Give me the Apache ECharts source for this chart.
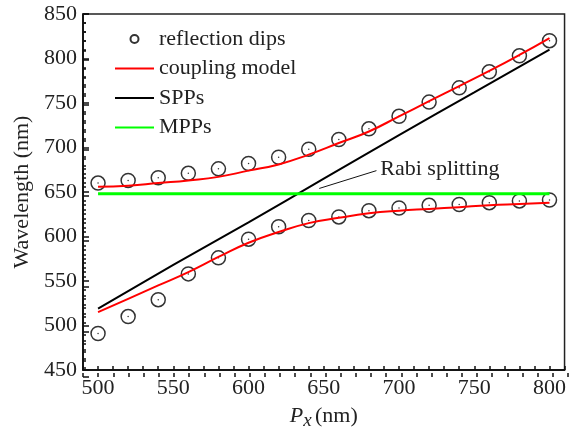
<!DOCTYPE html>
<html>
<head>
    <meta charset="utf-8"/>
    <title>Rabi splitting</title>
    <script type="text/javascript" src="https://cdn.jsdelivr.net/npm/echarts@6/dist/echarts.min.js"></script>
    <style>
        body { margin: 0; background: #fff; }
        #main { width: 569px; height: 435px; }
    </style>
</head>
<body>
<div id="main"></div>
<script type="text/javascript">
    // measured points (period Px, nm)
    var dipX = [500, 520, 540, 560, 580, 600, 620, 640, 660, 680, 700, 720, 740, 760, 780, 800];
    var dipsUpper = [660, 663, 666, 671, 676, 682, 689, 698, 709, 721, 735, 751, 767, 785, 803, 820];
    var dipsLower = [491, 510, 529, 558, 576, 597, 611, 618, 622, 629, 632, 635, 636, 638, 640, 641];

    // coupled oscillator fit, same x as dips
    var modelUpper = [656, 657, 660, 663, 667, 674, 681, 692, 705, 718, 735, 752, 769, 786, 804, 823];
    var modelLower = [515, 530, 545, 560, 577, 593, 605, 615, 621, 626, 629, 631, 633, 635, 636.5, 638];

    // uncoupled modes
    var sppX = [500, 550, 600, 650, 700, 750, 800];
    var sppY = [519, 568, 616, 665, 714, 762, 810];
    var mppX = [500, 800];
    var mppY = [648, 648];

    // annotation arrow: from -> to (data coords)
    var arrowFrom = [647, 654];
    var arrowTo = [685, 674];

    var xLabels = [500, 550, 600, 650, 700, 750, 800];

    var serif = '"Liberation Serif", "DejaVu Serif", serif';
    var noSymbol = { opacity: 0 };
    var gridBox = { left: 83, right: 1, top: 14, bottom: 58 };

    function pairs(xs, ys) {
        var res = [];
        for (var i = 0; i < xs.length; i++) res.push([xs[i], ys[i]]);
        return res;
    }

    var chart = echarts.init(document.getElementById('main'));
    var option = {
        animation: false,
        grid: [
            Object.assign({ show: true, borderColor: '#222', borderWidth: 1.5 }, gridBox),
            // second grid on the same box, only carries the tick marks
            Object.assign({ show: false }, gridBox)
        ],
        legend: {
            orient: 'vertical',
            left: 114,
            top: 28,
            padding: 0,
            itemWidth: 39,
            itemHeight: 8,
            itemGap: 7.5,
            textStyle: { fontFamily: serif, fontSize: 22, color: '#222', lineHeight: 21 },
            data: [
                { name: 'reflection dips' },
                { name: 'coupling model', itemStyle: noSymbol },
                { name: 'SPPs', itemStyle: noSymbol },
                { name: 'MPPs', itemStyle: noSymbol }
            ]
        },
        xAxis: [{
            type: 'value',
            gridIndex: 0,
            min: 490, max: 810, interval: 10,
            name: '{p|P}{x|x} {n|(nm)}',
            nameLocation: 'middle',
            nameGap: 33,
            nameTextStyle: {
                rich: {
                    p: { fontFamily: serif, fontSize: 22, fontStyle: 'italic', color: '#222' },
                    x: { fontFamily: serif, fontSize: 19, fontStyle: 'italic', color: '#222', padding: [8, 0, 0, 0] },
                    n: { fontFamily: serif, fontSize: 22, color: '#222' }
                }
            },
            axisLine: { show: true, lineStyle: { color: '#000', width: 1.5 } },
            axisTick: { show: true, inside: true, length: 4, lineStyle: { color: '#111', width: 1.5 } },
            axisLabel: { customValues: xLabels, margin: 7, fontFamily: serif, fontSize: 22, color: '#222' },
            splitLine: { show: false }
        }, {
            type: 'value',
            gridIndex: 1,
            min: 490, max: 810, interval: 10,
            z: 10,
            axisLine: { show: false },
            axisTick: { show: true, inside: true, length: 4, lineStyle: { color: '#111', width: 1.5 } },
            axisLabel: { show: false },
            splitLine: { show: false }
        }],
        yAxis: [{
            type: 'value',
            gridIndex: 0,
            min: 450, max: 850, interval: 50,
            name: 'Wavelength (nm)',
            nameLocation: 'middle',
            nameGap: 50,
            nameTextStyle: { fontFamily: serif, fontSize: 22, color: '#222' },
            axisLine: { show: true, lineStyle: { color: '#000', width: 1.5 } },
            axisTick: { show: true, inside: true, length: 6, lineStyle: { color: '#111', width: 1.5 } },
            minorTick: { show: true, splitNumber: 5, length: 3, lineStyle: { color: '#111', width: 1.5 } },
            axisLabel: { margin: 6, fontFamily: serif, fontSize: 22, color: '#222' },
            splitLine: { show: false }
        }, {
            type: 'value',
            gridIndex: 1,
            min: 450, max: 850, interval: 50,
            z: 10,
            axisLine: { show: false },
            axisTick: { show: true, inside: true, length: 6, lineStyle: { color: '#111', width: 1.5 } },
            minorTick: { show: true, splitNumber: 5, length: 3, lineStyle: { color: '#111', width: 1.5 } },
            axisLabel: { show: false },
            splitLine: { show: false }
        }],
        series: [
            {
                name: 'reflection dips', type: 'scatter',
                data: pairs(dipX, dipsUpper).concat(pairs(dipX, dipsLower)),
                symbol: 'circle', symbolSize: 14,
                itemStyle: { color: 'rgba(0,0,0,0)', borderColor: '#000', borderWidth: 1.5 }
            },
            {
                name: 'dot', type: 'scatter',
                data: pairs(dipX, dipsUpper).concat(pairs(dipX, dipsLower)),
                symbol: 'circle', symbolSize: 1.5,
                itemStyle: { color: '#000' }
            },
            {
                name: 'coupling model', type: 'line', smooth: true, symbol: 'none',
                data: pairs(dipX, modelUpper),
                lineStyle: { color: '#ff0000', width: 2 }, itemStyle: { color: '#ff0000' }
            },
            {
                name: 'coupling model', type: 'line', smooth: true, symbol: 'none',
                data: pairs(dipX, modelLower),
                lineStyle: { color: '#ff0000', width: 2 }, itemStyle: { color: '#ff0000' }
            },
            {
                name: 'SPPs', type: 'line', smooth: true, symbol: 'none',
                data: pairs(sppX, sppY),
                lineStyle: { color: '#000', width: 2 }, itemStyle: { color: '#000' }
            },
            {
                name: 'MPPs', type: 'line', symbol: 'none',
                data: pairs(mppX, mppY),
                lineStyle: { color: '#00ff00', width: 3 }, itemStyle: { color: '#00ff00' },
                markLine: {
                    silent: true,
                    symbol: ['none', 'arrow'],
                    symbolSize: [0, 10],
                    lineStyle: { color: '#111', width: 1, type: 'solid' },
                    label: {
                        show: true, position: 'end', distance: 4,
                        formatter: 'Rabi splitting',
                        fontFamily: serif, fontSize: 22, color: '#222'
                    },
                    data: [[{ coord: arrowFrom }, { coord: arrowTo }]]
                }
            }
        ]
    };
    chart.setOption(option);
</script>
</body>
</html>
